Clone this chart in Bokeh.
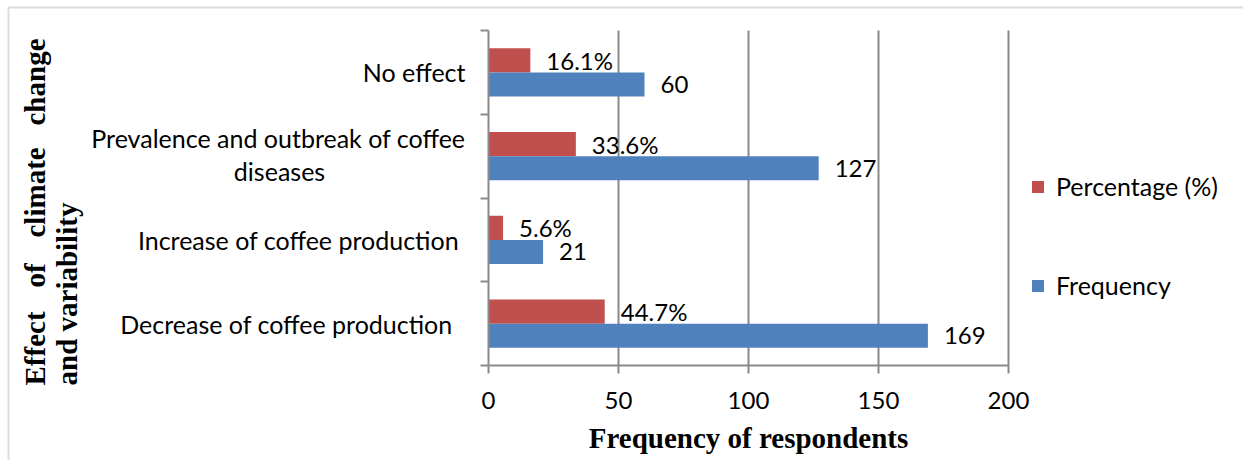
import numpy as np
from bokeh.plotting import figure
from bokeh.models import (ColumnDataSource, FixedTicker, Legend, LegendItem,
                          Label, Range1d, BoxAnnotation, LinearAxis)
from bokeh.transform import dodge
from bokeh.embed import file_html
from bokeh.resources import INLINE
from bokeh.core.properties import value

# ---- data (bottom to top) ----
categories = ["Decrease of coffee production", "Increase of coffee production",
              "Prevalence and outbreak of coffee diseases", "No effect"]
tick_labels = ["Decrease of coffee production  ", "Increase of coffee production ",
               "Prevalence and outbreak of coffee\n", "No effect"]
wrapped_tail = "diseases"          # second line of the third category label
frequency = [169, 21, 127, 60]
percentage = [44.7, 5.6, 33.6, 16.1]
x_ticks = [0, 50, 100, 150, 200]

# ---- layout (canvas pixels) ----
W, H = 1243, 460
AX_L, AX_R = 488, 1008      # pixel columns of x = 0 and x = 200
AX_T, AX_B = 30, 365        # pixel rows of the top and bottom of the bar area
X_MAX = x_ticks[-1]
N = len(categories)

RED = "#C0504D"
BLUE = "#4F81BD"
GREY = "#8A8A8A"
SANS = "Lato"
SERIF = "Liberation Serif"
FS = "24px"
FS_CAT = "25px"

# the plot frame fills the whole canvas; ranges are set so that the data
# area [0, 200] x [0, N] lands on the pixel box above
sx = X_MAX / (AX_R - AX_L)
sy = N / (AX_B - AX_T)
x_range = Range1d(-AX_L * sx, X_MAX + (W - AX_R) * sx)
y_range = Range1d(-(H - AX_B) * sy, N + AX_T * sy)

pos = np.arange(N) + 0.5
src = ColumnDataSource(dict(
    pos=pos,
    freq=frequency,
    pct=percentage,
    freq_txt=[str(v) for v in frequency],
    pct_txt=[f"{v}%" for v in percentage],
))

p = figure(width=W, height=H, x_range=x_range, y_range=y_range,
           output_backend="svg", toolbar_location=None,
           min_border=0, min_border_left=0, min_border_right=0,
           min_border_top=0, min_border_bottom=0, x_axis_location=None, y_axis_location=None)
p.outline_line_color = None
p.background_fill_color = "white"
p.border_fill_color = "white"
p.grid.visible = False

# vertical grid lines at the x ticks
p.segment(x0=x_ticks[1:], x1=x_ticks[1:], y0=0, y1=N, line_color=GREY, line_width=2)

BAR_H = 0.287
r_pct = p.hbar(y=dodge("pos", BAR_H / 2, range=p.y_range), left=0, right="pct", height=BAR_H,
               source=src, fill_color=RED, line_color=None)
r_freq = p.hbar(y=dodge("pos", -BAR_H / 2, range=p.y_range), left=0, right="freq", height=BAR_H,
                source=src, fill_color=BLUE, line_color=None)

p.text(x="pct", y=dodge("pos", BAR_H / 2, range=p.y_range), text="pct_txt", source=src,
       x_offset=16, text_baseline="middle", text_align="left",
       text_font=value(SANS), text_font_size=FS, text_color="black")
p.text(x="freq", y=dodge("pos", -BAR_H / 2, range=p.y_range), text="freq_txt", source=src,
       x_offset=16, text_baseline="middle", text_align="left",
       text_font=value(SANS), text_font_size=FS, text_color="black")

# x axis, pinned at y = 0
xaxis = LinearAxis(fixed_location=0, bounds=(0, X_MAX))
xaxis.ticker = FixedTicker(ticks=x_ticks, minor_ticks=[])
xaxis.axis_line_color = GREY
xaxis.axis_line_width = 2
xaxis.major_tick_line_color = GREY
xaxis.major_tick_line_width = 2
xaxis.major_tick_out = 8
xaxis.major_tick_in = 0
xaxis.major_label_standoff = 18
xaxis.major_label_text_font = SANS
xaxis.major_label_text_font_size = FS
xaxis.major_label_text_color = "black"
xaxis.axis_label = "Frequency of respondents"
xaxis.axis_label_text_font = SERIF
xaxis.axis_label_text_font_style = "bold"
xaxis.axis_label_text_font_size = "29px"
xaxis.axis_label_text_color = "black"
xaxis.axis_label_standoff = 10
p.add_layout(xaxis, "below")

# y axis, pinned at x = 0: labels at category centres, short ticks at boundaries
yaxis = LinearAxis(fixed_location=0, bounds=(0, N))
yaxis.ticker = FixedTicker(ticks=list(pos), minor_ticks=list(np.arange(N + 1)))
yaxis.major_label_overrides = {float(v): t for v, t in zip(pos, tick_labels)}
yaxis.axis_line_color = GREY
yaxis.axis_line_width = 2
yaxis.major_tick_line_color = None
yaxis.major_tick_out = 0
yaxis.major_tick_in = 0
yaxis.minor_tick_line_color = GREY
yaxis.minor_tick_line_width = 2
yaxis.minor_tick_out = 8
yaxis.minor_tick_in = 0
yaxis.major_label_standoff = 15
yaxis.major_label_text_font = SANS
yaxis.major_label_text_font_size = FS_CAT
yaxis.major_label_text_color = "black"
p.add_layout(yaxis, "left")

# second line of the wrapped category label, centred under the first line
p.add_layout(Label(x=279, y=pos[2], x_units="screen", y_units="data", y_offset=-15,
                   text=wrapped_tail, text_align="center", text_baseline="middle",
                   text_font=SANS, text_font_size=FS_CAT, text_color="black"))

# legend to the right of the bar area
legend = Legend(items=[LegendItem(label="Percentage (%)", renderers=[r_pct]),
                       LegendItem(label="Frequency", renderers=[r_freq])],
                location=(1030, 160), orientation="vertical",
                glyph_width=15, glyph_height=15, label_height=20, spacing=69,
                label_standoff=11, padding=10, margin=0,
                label_text_font=SANS, label_text_font_size=FS_CAT, label_text_color="black",
                border_line_color=None, background_fill_alpha=0)
p.add_layout(legend, "center")

# vertical axis title, justified over two lines
TITLE_X1, TITLE_X2 = 34, 66
title_words = [("Effect", 75, "left"), ("of", 173, "left"), ("climate", 223, "left"),
               ("change", 422, "right")]
for word, y, align in title_words:
    p.add_layout(Label(x=TITLE_X1, y=y, x_units="screen", y_units="screen", text=word,
                       angle=np.pi / 2, text_align=align, text_baseline="alphabetic",
                       text_font=SERIF, text_font_style="bold", text_font_size="29px",
                       text_color="black"))
p.add_layout(Label(x=TITLE_X2, y=75, x_units="screen", y_units="screen", text="and variability",
                   angle=np.pi / 2, text_align="left", text_baseline="alphabetic",
                   text_font=SERIF, text_font_style="bold", text_font_size="29px",
                   text_color="black"))

# outer frame around the chart (only its left and top edges fall on the canvas)
p.add_layout(BoxAnnotation(left=8, right=W + 50, top=H - 7, bottom=-50,
                           left_units="screen", right_units="screen",
                           top_units="screen", bottom_units="screen",
                           fill_alpha=0, line_color=GREY, line_width=2))

open("out.html", "w").write(file_html(p, INLINE))
